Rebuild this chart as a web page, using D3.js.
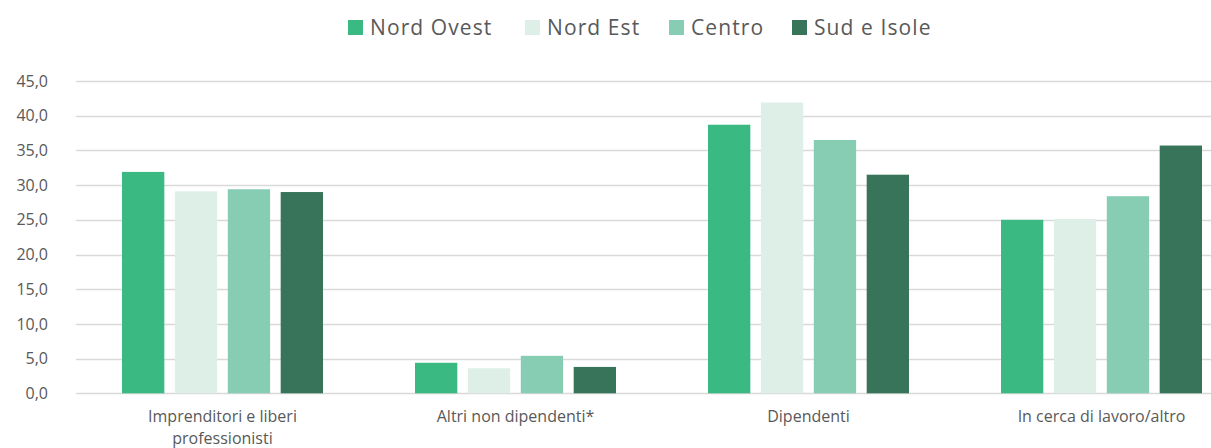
<!DOCTYPE html>
<html>
<head>
<meta charset="utf-8">
<script src="https://cdn.jsdelivr.net/npm/d3@7"></script>
<style>
  body { margin: 0; background: white; }
  text { font-family: "Open Sans", Lato, sans-serif; fill: #595959; }
</style>
</head>
<body>
<div id="chart"></div>
<script>
// data

const categories = [
    ["Imprenditori e liberi", "professionisti"],
    ["Altri non dipendenti*"],
    ["Dipendenti"],
    ["In cerca di lavoro/altro"]
];
const series = ["Nord Ovest", "Nord Est", "Centro", "Sud e Isole"];
const nordOvest = [31.9, 4.4, 38.7, 25.0];
const nordEst = [29.1, 3.6, 41.9, 25.1];
const centro = [29.4, 5.4, 36.5, 28.4];
const sudIsole = [29.0, 3.8, 31.5, 35.7];
const yTicks = [0, 5, 10, 15, 20, 25, 30, 35, 40, 45];
const colors = ["#3BB982", "#DDEFE7", "#86CDB3", "#37745A"];

const values = [nordOvest, nordEst, centro, sudIsole];

width = 1211;
height = 448;

svg = d3.select("#chart")
    .append("svg")
    .attr("width", width)
    .attr("height", height);

// scales

const x0 = d3.scaleBand()
    .domain(d3.range(categories.length))
    .range([76, 1248])
    .paddingInner(0.314)
    .paddingOuter(0.157);

const x1 = d3.scaleBand()
    .domain(d3.range(series.length))
    .range([0, x0.bandwidth()])
    .paddingInner(0.2)
    .paddingOuter(0);

const y = d3.scaleLinear()
    .domain([0, 45])
    .range([393.3, 81]);

// gridlines and y labels

svg.append("g")
    .selectAll("line")
    .data(yTicks)
    .join("line")
    .attr("x1", 76)
    .attr("x2", width)
    .attr("y1", d => Math.round(y(d)) + 0.5)
    .attr("y2", d => Math.round(y(d)) + 0.5)
    .attr("stroke", "#d9d9d9")
    .attr("stroke-width", 1.5);

svg.append("g")
    .selectAll("text")
    .data(yTicks)
    .join("text")
    .attr("x", 48)
    .attr("y", d => y(d))
    .attr("dy", "0.35em")
    .attr("text-anchor", "end")
    .style("font-size", "16px")
    .text(d => d.toFixed(1).replace(".", ","));

// bars

const groups = svg.append("g")
    .selectAll("g")
    .data(categories)
    .join("g")
    .attr("transform", (d, i) => `translate(${x0(i)},0)`);

groups.selectAll("rect")
    .data((d, i) => values.map((s, k) => ({k: k, v: s[i]})))
    .join("rect")
    .attr("x", d => x1(d.k))
    .attr("y", d => y(d.v))
    .attr("width", x1.bandwidth())
    .attr("height", d => y(0) - y(d.v))
    .attr("fill", d => colors[d.k]);

// category labels

svg.append("g")
    .selectAll("text")
    .data(categories)
    .join("text")
    .attr("x", (d, i) => x0(i) + x0.bandwidth() / 2)
    .attr("y", 422)
    .attr("text-anchor", "middle")
    .style("font-size", "16px")
    .each(function (d) {
        d3.select(this).selectAll("tspan")
            .data(d)
            .join("tspan")
            .attr("x", d3.select(this).attr("x"))
            .attr("dy", (t, j) => j === 0 ? 0 : 22)
            .text(t => t);
    });

// legend

const legendX = [348, 525, 669, 792];
const legend = svg.append("g")
    .selectAll("g")
    .data(series)
    .join("g")
    .attr("transform", (d, i) => `translate(${legendX[i]},20)`);

legend.append("rect")
    .attr("width", 15)
    .attr("height", 15)
    .attr("fill", (d, i) => colors[i]);

legend.append("text")
    .attr("x", 22)
    .attr("y", 15)
    .style("font-size", "21px")
    .style("letter-spacing", "1.1px")
    .text(d => d);
</script>
</body>
</html>
